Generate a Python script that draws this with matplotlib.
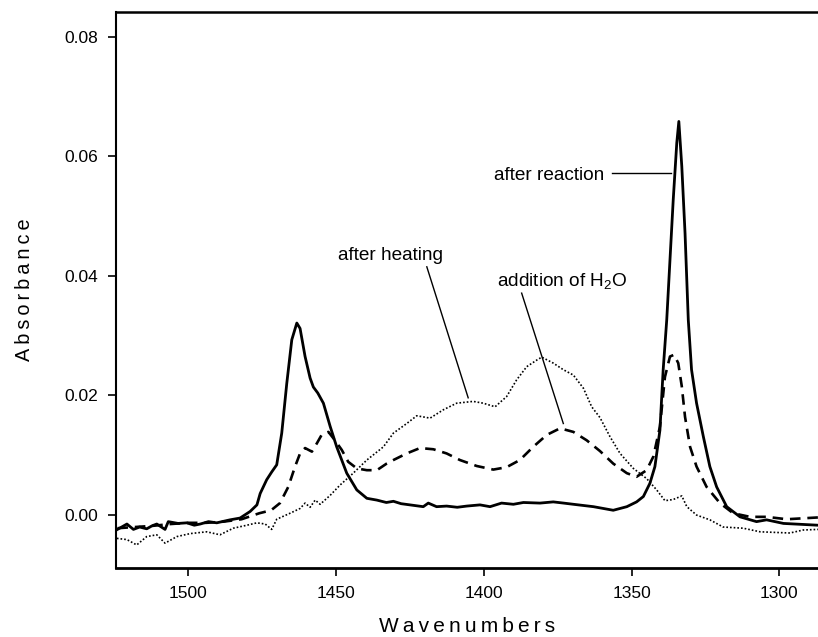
import numpy as np
import matplotlib
matplotlib.use("Agg")
import matplotlib.pyplot as plt

plt.rcParams['font.family'] = ['Liberation Sans', 'DejaVu Sans']
plt.rcParams['mathtext.default'] = 'regular'

# after reaction (solid)
wn_reaction = [1524.0, 1520.8, 1518.6, 1516.5, 1514.1, 1512.3, 1510.7, 1507.9, 1506.8, 1503.5,
               1500.5, 1498.0, 1496.0, 1493.2, 1490.4, 1485.9, 1482.5, 1479.1, 1476.8,
               1475.7, 1473.5, 1471.8, 1470.1, 1468.4, 1466.7, 1465.0, 1463.3, 1462.2,
               1460.5, 1458.8, 1457.7, 1456.2, 1454.3, 1452.0, 1449.8, 1446.4, 1443.0,
               1439.6, 1436.2, 1433.0, 1430.6, 1428.0, 1425.0, 1420.5, 1418.8, 1416.0,
               1412.6, 1409.0, 1405.8, 1401.3, 1397.9, 1394.0, 1390.0, 1386.6, 1381.0,
               1376.5, 1373.0, 1369.7, 1362.9, 1356.2, 1351.6, 1348.3, 1346.0, 1343.8,
               1342.1, 1340.4, 1339.3, 1338.1, 1335.9, 1334.7, 1334.0, 1333.0, 1331.9,
               1330.8, 1329.7, 1328.0, 1325.7, 1323.5, 1321.2, 1317.8, 1313.3, 1307.7,
               1304.3, 1298.6, 1286.9]
abs_reaction = [-0.0024, -0.0015, -0.0024, -0.0020, -0.0023, -0.0018, -0.0015, -0.0024, -0.0011, -0.0014,
                -0.0013, -0.0017, -0.0015, -0.0011, -0.0013, -0.0008, -0.0005, 0.0006, 0.0017,
                0.0036, 0.0059, 0.0072, 0.0084, 0.0137, 0.0220, 0.0293, 0.0321, 0.0312,
                0.0265, 0.0229, 0.0214, 0.0204, 0.0187, 0.0148, 0.0114, 0.0070, 0.0042,
                0.0028, 0.0025, 0.0021, 0.0023, 0.0019, 0.0017, 0.0014, 0.0020, 0.0014,
                0.0015, 0.0013, 0.0015, 0.0017, 0.0014, 0.0020, 0.0018, 0.0021, 0.0020,
                0.0022, 0.0020, 0.0018, 0.0014, 0.0008, 0.0014, 0.0022, 0.0031, 0.0053,
                0.0081, 0.0142, 0.0243, 0.0326, 0.0527, 0.0622, 0.0658, 0.0583, 0.0471,
                0.0326, 0.0243, 0.0187, 0.0131, 0.0081, 0.0047, 0.0014, -0.0003, -0.0011,
                -0.0008, -0.0014, -0.0017]

# addition of H2O (dashed)
wn_water = [1524.0, 1518.0, 1512.0, 1506.0, 1500.0, 1494.0, 1488.0, 1482.0, 1476.0,
            1472.0, 1469.0, 1466.2, 1463.9, 1462.2, 1460.5, 1458.2, 1456.5, 1454.9,
            1452.6, 1450.4, 1448.1, 1445.9, 1443.0, 1439.6, 1436.2, 1432.9, 1430.6,
            1426.1, 1421.6, 1417.1, 1412.6, 1408.1, 1402.4, 1396.8, 1392.3, 1387.8,
            1383.3, 1378.7, 1374.2, 1369.7, 1365.2, 1360.7, 1356.2, 1351.6, 1348.3,
            1344.9, 1342.6, 1340.4, 1338.7, 1337.0, 1335.6, 1334.2, 1333.0, 1331.9,
            1330.2, 1328.0, 1324.6, 1320.1, 1315.6, 1309.9, 1304.3, 1297.5, 1286.9]
abs_water = [-0.0022, -0.0020, -0.0018, -0.0015, -0.0013, -0.0013, -0.0011, -0.0007, 0.0003,
             0.0008, 0.0020, 0.0047, 0.0081, 0.0103, 0.0112, 0.0106, 0.0120, 0.0134,
             0.0139, 0.0125, 0.0109, 0.0089, 0.0078, 0.0075, 0.0075, 0.0086, 0.0092,
             0.0103, 0.0112, 0.0110, 0.0103, 0.0092, 0.0082, 0.0076, 0.0080, 0.0092,
             0.0114, 0.0134, 0.0145, 0.0139, 0.0125, 0.0107, 0.0086, 0.0070, 0.0064,
             0.0075, 0.0098, 0.0148, 0.0231, 0.0265, 0.0268, 0.0254, 0.0215, 0.0164,
             0.0114, 0.0081, 0.0047, 0.0020, 0.0003, -0.0003, -0.0003, -0.0007, -0.0004]

# after heating (dotted)
wn_heating = [1524.2, 1520.8, 1517.5, 1514.1, 1510.7, 1507.9, 1503.9, 1499.4, 1493.8,
              1489.3, 1484.8, 1480.2, 1476.8, 1474.0, 1471.8, 1470.1, 1465.6, 1462.2,
              1460.5, 1458.8, 1457.1, 1455.4, 1452.0, 1448.7, 1444.2, 1439.6, 1434.0,
              1430.6, 1426.1, 1422.7, 1418.2, 1413.7, 1409.2, 1403.6, 1400.2, 1396.2,
              1392.3, 1388.9, 1385.5, 1382.1, 1380.4, 1376.5, 1373.1, 1369.7, 1366.3,
              1363.5, 1360.7, 1357.3, 1353.9, 1349.4, 1344.9, 1341.5, 1338.7, 1335.9,
              1333.0, 1331.3, 1328.0, 1323.5, 1319.0, 1312.2, 1306.5, 1296.4, 1291.9, 1286.9]
abs_heating = [-0.0039, -0.0041, -0.0050, -0.0036, -0.0033, -0.0047, -0.0036, -0.0031, -0.0028,
               -0.0033, -0.0022, -0.0017, -0.0013, -0.0015, -0.0024, -0.0007, 0.0003, 0.0011,
               0.0020, 0.0013, 0.0025, 0.0018, 0.0033, 0.0050, 0.0070, 0.0092, 0.0114,
               0.0137, 0.0153, 0.0166, 0.0162, 0.0176, 0.0187, 0.0190, 0.0187, 0.0181,
               0.0198, 0.0226, 0.0248, 0.0259, 0.0264, 0.0254, 0.0243, 0.0234, 0.0212,
               0.0181, 0.0163, 0.0131, 0.0103, 0.0078, 0.0061, 0.0042, 0.0024, 0.0026,
               0.0032, 0.0014, 0.0000, -0.0008, -0.0020, -0.0022, -0.0028, -0.0030, -0.0025, -0.0024]

x_ticks = [1500, 1450, 1400, 1350, 1300]
y_ticks = [0.00, 0.02, 0.04, 0.06, 0.08]

fig = plt.figure(figsize=(8.18, 6.37), dpi=100)
ax = fig.add_axes([0.1418, 0.1088, 0.8582, 0.8724])

ax.plot(wn_reaction, abs_reaction, color='black', lw=2.0, solid_joinstyle='round')
ax.plot(wn_water, abs_water, color='black', lw=1.9, linestyle=(0, (4, 2.6)))
ax.plot(wn_heating, abs_heating, color='black', lw=1.2, linestyle=(0, (1, 1.2)))

ax.set_xlim(1524.5, 1286.9)
ax.set_ylim(-0.0088, 0.0841)

ax.set_xticks(x_ticks)
ax.set_xticklabels([str(t) for t in x_ticks])
ax.set_yticks(y_ticks)
ax.set_yticklabels(["%.2f" % t for t in y_ticks])
ax.tick_params(direction='out', length=6, width=1.2, labelsize=12.5, pad=7)

ax.spines['right'].set_visible(False)
ax.spines['top'].set_linewidth(1.8)
ax.spines['left'].set_linewidth(1.5)
ax.spines['bottom'].set_linewidth(2.0)

thin = "\u2009"
ax.set_xlabel(thin.join("Wavenumbers"), fontsize=15, labelpad=12)
ax.set_ylabel(thin.join("Absorbance"), fontsize=14.3, labelpad=22)

# annotations with leader lines
ax.text(1396.5, 0.0560, "after reaction", fontsize=13.7, ha='left', va='baseline')
ax.plot([1356.7, 1336.8], [0.0572, 0.0572], color='black', lw=1.0)

ax.text(1449.3, 0.04265, "after heating", fontsize=13.7, ha='left', va='baseline')
ax.plot([1419.3, 1405.3], [0.0415, 0.0196], color='black', lw=1.0)

ax.text(1395.6, 0.0383, "addition of H$_2$O", fontsize=13.7, ha='left', va='baseline')
ax.plot([1387.2, 1373.1], [0.0371, 0.0153], color='black', lw=1.0)

fig.savefig("out.png", dpi=100)
